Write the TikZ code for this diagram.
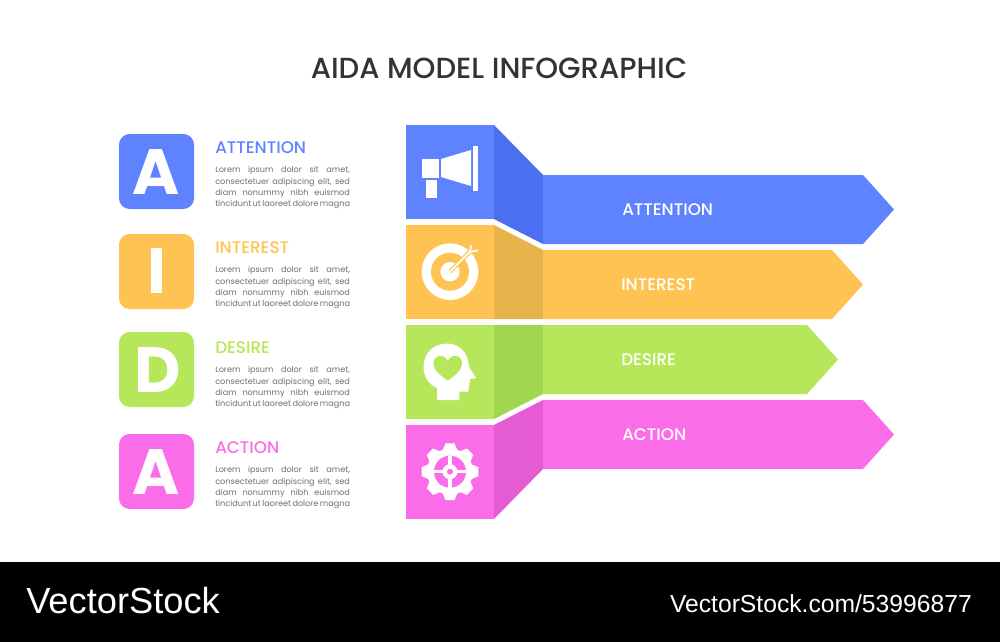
\documentclass[tikz,border=0pt]{standalone}
\usepackage{fontspec}
\setmainfont{Poppins}
\newfontfamily\mediumfont{Poppins Medium}
\newfontfamily\plainfont{Liberation Sans}
\definecolor{bluemain}{HTML}{5F82FF}
\definecolor{bluedark}{HTML}{4A6FF0}
\definecolor{orangemain}{HTML}{FFC353}
\definecolor{orangedark}{HTML}{E6B44A}
\definecolor{greenmain}{HTML}{B6E65A}
\definecolor{greendark}{HTML}{A0D650}
\definecolor{pinkmain}{HTML}{FB6DE8}
\definecolor{pinkdark}{HTML}{E55BD3}
\definecolor{titlegrey}{HTML}{333333}
\definecolor{bodygrey}{HTML}{6E6E6E}
\newcommand{\bodylines}{\makebox[101pt][s]{Lorem ipsum dolor sit amet,}\\\makebox[101pt][s]{consectetuer adipiscing elit, sed}\\\makebox[101pt][s]{diam nonummy nibh euismod}\\\makebox[101pt][s]{tincidunt ut laoreet dolore magna}}
\tikzset{
  letterbox/.style={rounded corners=8pt},
  letter/.style={text=white, font=\fontsize{48pt}{48pt}\selectfont\bfseries, inner sep=0pt},
  heading/.style={anchor=west, inner sep=0pt, font=\mediumfont\fontsize{12.6pt}{12.6pt}\selectfont},
  bodytext/.style={anchor=north west, inner sep=0pt, align=left, text=bodygrey, font=\fontsize{6.1pt}{8.5pt}\selectfont},
  bandtext/.style={anchor=west, inner sep=0pt, text=white, font=\mediumfont\fontsize{12.6pt}{12.6pt}\selectfont}
}
\begin{document}
\begin{tikzpicture}[x=0.75pt,y=-0.75pt]
\useasboundingbox (0,0) rectangle (1000,642);
\fill[white] (0,0) rectangle (1000,642);
\fill[black] (0,562) rectangle (1000,642);
\node[inner sep=0pt, text=titlegrey, font=\mediumfont\fontsize{21.8pt}{21.8pt}\selectfont] (title) at (499,68) {AIDA MODEL INFOGRAPHIC};
\node[anchor=west, inner sep=0pt, text=white, font=\plainfont\fontsize{27.2pt}{27.2pt}\selectfont] (stockname) at (26,601) {VectorStock};
\node[anchor=east, inner sep=0pt, text=white, font=\plainfont\fontsize{18.5pt}{18.5pt}\selectfont] (stockid) at (972,604) {VectorStock.com/53996877};
\fill[bluemain, letterbox] (119,134) rectangle (194,209);
\fill[orangemain, letterbox] (119,234) rectangle (194,309);
\fill[greenmain, letterbox] (119,332) rectangle (194,407);
\fill[pinkmain, letterbox] (119,434) rectangle (194,509);
\node[letter] (lettera) at (156.5,172) {A};
\node[letter] (letteri) at (157,271.5) {I};
\node[letter] (letterd) at (157.5,370) {D};
\node[letter] (letterb) at (156.5,472) {A};
\node[heading, text=bluemain] (headattention) at (215,148) {ATTENTION};
\node[heading, text=orangemain] (headinterest) at (215,248) {INTEREST};
\node[heading, text=greenmain] (headdesire) at (215,348) {DESIRE};
\node[heading, text=pinkmain] (headaction) at (215,448) {ACTION};
\node[bodytext] (bodyattention) at (215,166.5) {\bodylines};
\node[bodytext] (bodyinterest) at (215,266.5) {\bodylines};
\node[bodytext] (bodydesire) at (215,366.5) {\bodylines};
\node[bodytext] (bodyaction) at (215,466.5) {\bodylines};
\fill[bluemain] (406,125) rectangle (494,219);
\fill[bluedark] (494,125) -- (543,175) -- (543,244) -- (494,219) -- cycle;
\fill[bluemain] (543,175) -- (863,175) -- (894,209.5) -- (863,244) -- (543,244) -- cycle;
\fill[orangemain] (406,225) rectangle (494,319);
\fill[orangedark] (494,225) -- (543,250) -- (543,319) -- (494,319) -- cycle;
\fill[orangemain] (543,250) -- (832,250) -- (863,284.5) -- (832,319) -- (543,319) -- cycle;
\fill[greenmain] (406,325) rectangle (494,419);
\fill[greendark] (494,325) -- (543,325) -- (543,394) -- (494,419) -- cycle;
\fill[greenmain] (543,325) -- (807,325) -- (838,359.5) -- (807,394) -- (543,394) -- cycle;
\fill[pinkmain] (406,425) rectangle (494,519);
\fill[pinkdark] (494,425) -- (543,400) -- (543,469) -- (494,519) -- cycle;
\fill[pinkmain] (543,400) -- (863,400) -- (894,434.5) -- (863,469) -- (543,469) -- cycle;
\node[bandtext] (bandattention) at (622,209.5) {ATTENTION};
\node[bandtext] (bandinterest) at (621,284.5) {INTEREST};
\node[bandtext] (banddesire) at (621,359.5) {DESIRE};
\node[bandtext] (bandaction) at (622,434.5) {ACTION};
\fill[white] (422,159) rectangle (439,178);
\fill[white] (425.7,180) rectangle (437,198);
\fill[white] (441,159) -- (471,150) -- (471,186) -- (441,177) -- cycle;
\fill[white] (472.7,146) rectangle (478,190.7);
\fill[white] (450,271.7) circle[radius=28.3];
\fill[orangemain] (450,271.7) circle[radius=19];
\fill[white] (450,271.7) circle[radius=9.7];
\draw[orangemain, line width=3.2pt] (450,271.7) -- (470,251.7);
\draw[white, line width=1.3pt] (450,271.7) -- (470,251.7);
\draw[white, line width=1.3pt] (470,251.7) -- (471,245.5);
\draw[white, line width=1.3pt] (470,251.7) -- (478,250.5);
\fill[white] (437,400) -- (437,388) .. controls (428,384) and (423.5,376) .. (423.5,366.7) .. controls (423.5,353) and (434,343.5) .. (446.7,343.5) .. controls (459,343.5) and (468,352) .. (469,366.7) -- (476,378) -- (470,379) -- (468.3,391.7) -- (459.3,391.7) -- (459.3,400) -- cycle;
\fill[greenmain] (447.7,380.7) .. controls (440,375) and (433.5,370) .. (433.5,363.5) .. controls (433.5,354) and (445,354) .. (447.7,361) .. controls (450.5,354) and (462,354) .. (462,363.5) .. controls (462,370) and (455.5,375) .. (447.7,380.7) -- cycle;
\fill[white] (450,471.7) circle[radius=23];
\foreach \ang in {0,45,...,315}{
  \fill[white, shift={(450,471.7)}, rotate=\ang] (20,-8) -- (28.3,-4.5) -- (28.3,4.5) -- (20,8) -- cycle;
}
\fill[pinkmain] (450,471.7) circle[radius=16];
\draw[white, line width=2.6pt] (434,471.7) -- (466,471.7);
\draw[white, line width=2.6pt] (450,455.7) -- (450,487.7);
\fill[white] (450,471.7) circle[radius=7.5];
\fill[pinkmain] (450,471.7) circle[radius=3];
\end{tikzpicture}
\end{document}
